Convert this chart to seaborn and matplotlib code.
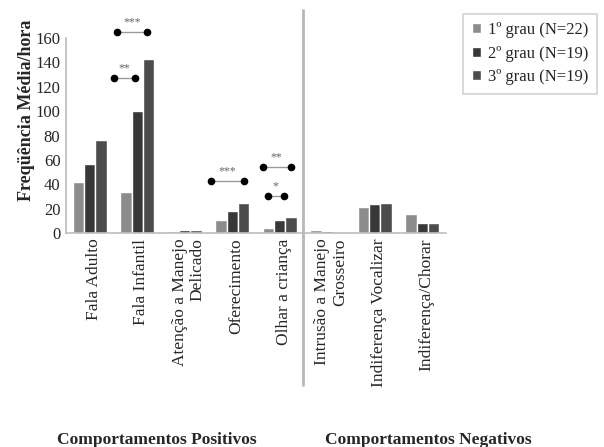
import matplotlib
matplotlib.use("Agg")
import matplotlib.pyplot as plt
import matplotlib.transforms as mtransforms
from matplotlib.lines import Line2D
import pandas as pd
import seaborn as sns

# Behaviour categories (positive block, then negative block)
categorias = [
    "Fala Adulto",
    "Fala Infantil",
    "Atenção a Manejo\nDelicado",
    "Oferecimento",
    "Olhar a criança",
    "Intrusão a Manejo\nGrosseiro",
    "Indiferença Vocalizar",
    "Indiferença/Chorar",
]
grupos = ["1º grau (N=22)", "2º grau (N=19)", "3º grau (N=19)"]

# Mean frequency per hour for each group
grau1 = [42, 34, 2, 11, 4, 2.5, 21, 16]
grau2 = [57, 100, 2.5, 18, 11, 2, 24, 8]
grau3 = [76, 143, 2.5, 25, 13, 1, 25, 8]

yticks = [0, 20, 40, 60, 80, 100, 120, 140, 160]

# Significance markers: (category index, start offset, end offset, height, stars)
sig_cat = [1, 1, 3, 4, 4]
sig_x0 = [-0.42, -0.49, -0.45, -0.36, -0.25]
sig_x1 = [0.20, -0.05, 0.24, 0.23, 0.08]
sig_y = [165, 127, 43, 54, 30]
sig_txt = ["***", "**", "***", "**", "*"]

cores = ["#8c8c8c", "#383838", "#4c4c4c"]

df = pd.DataFrame({
    "categoria": categorias * 3,
    "grupo": [g for g in grupos for _ in categorias],
    "freq": grau1 + grau2 + grau3,
})

sns.set_theme(style="white")
plt.rcParams["font.family"] = ["Liberation Serif", "DejaVu Serif"]

fig = plt.figure(figsize=(6.04, 4.47), dpi=100)
ax = fig.add_axes([66 / 604, 1 - 233 / 447, 380 / 604, 195 / 447])

sns.barplot(data=df, x="categoria", y="freq", hue="grupo", order=categorias,
            hue_order=grupos, palette=cores, saturation=1, width=0.72,
            errorbar=None, ax=ax, legend=True)

ax.set_xlim(-0.5, len(categorias) - 0.5)
ax.set_ylim(0, 160)
ax.set_yticks(yticks)
ax.set_yticklabels([str(v) for v in yticks], fontsize=12)
ax.tick_params(axis="both", length=0, pad=4)
ax.set_xlabel("")
ax.set_ylabel("Freqüência Média/hora", fontsize=13, fontweight="bold")
ax.yaxis.set_label_coords(-0.082, 0.63)

shift = mtransforms.ScaledTranslation(4 / 100, 0, fig.dpi_scale_trans)
ax.set_xticks(range(len(categorias)))
ax.set_xticklabels(categorias, rotation=90, ha="center", va="top",
                   multialignment="right", fontsize=12.5)
for lab in ax.get_xticklabels():
    lab.set_transform(lab.get_transform() + shift)

for side in ["top", "right"]:
    ax.spines[side].set_visible(False)
for side in ["left", "bottom"]:
    ax.spines[side].set_color("#bdbdbd")
    ax.spines[side].set_linewidth(1.2)

# Significance brackets with dotted ends
for c, a, b, y, t in zip(sig_cat, sig_x0, sig_x1, sig_y, sig_txt):
    ax.plot([c + a, c + b], [y, y], color="#9a9a9a", lw=1.0, clip_on=False, zorder=4)
    ax.plot([c + a, c + b], [y, y], "o", color="black", ms=4.5, clip_on=False, zorder=5)
    ax.text(c + (a + b) / 2, y + 3, t, ha="center", va="bottom", fontsize=8.5,
            color="#666666", clip_on=False)

# Separator between positive and negative behaviours
sep = Line2D([303 / 604, 303 / 604], [1 - 10 / 447, 1 - 385 / 447],
             transform=fig.transFigure, color="#b8b8b8", lw=2)
fig.add_artist(sep)

# Legend box in the upper right corner
handles, labels = ax.get_legend_handles_labels()
ax.get_legend().remove()
leg = fig.legend(handles, labels, loc="upper right",
                 bbox_to_anchor=(597 / 604, 1 - 14 / 447),
                 fontsize=12, frameon=True, fancybox=False,
                 handlelength=0.55, handleheight=0.55, handletextpad=0.45,
                 labelspacing=0.45, borderpad=0.5, borderaxespad=0)
leg.get_frame().set_edgecolor("#c8c8c8")
leg.get_frame().set_linewidth(1.2)

fig.text(157 / 604, 1 - 440 / 447, "Comportamentos Positivos", ha="center",
         va="center", fontsize=12.5, fontweight="bold")
fig.text(428 / 604, 1 - 440 / 447, "Comportamentos Negativos", ha="center",
         va="center", fontsize=12.5, fontweight="bold")

fig.savefig("out.png", dpi=100)
